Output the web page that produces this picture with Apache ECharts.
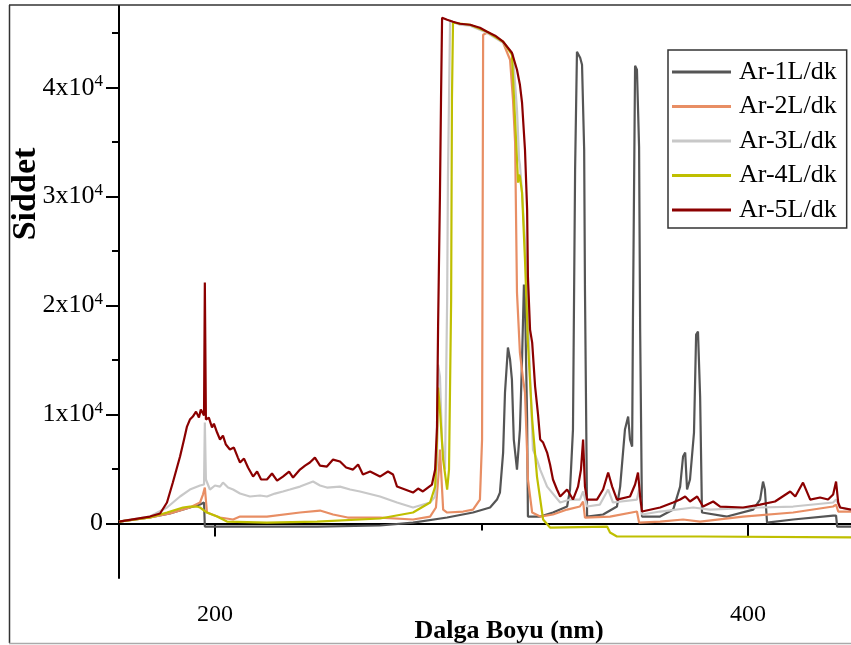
<!DOCTYPE html>
<html>
<head>
<meta charset="utf-8">
<script src="https://cdn.jsdelivr.net/npm/echarts@6/dist/echarts.min.js"></script>
<style>
html,body{margin:0;padding:0;background:#fff;}
#chart{width:851px;height:645px;}
</style>
</head>
<body>
<div id="chart"></div>
<script>
// ---- data: [wavelength (nm), intensity] ----
const seriesNames = ['Ar-1L/dk', 'Ar-2L/dk', 'Ar-3L/dk', 'Ar-4L/dk', 'Ar-5L/dk'];

const ar1 = [[164,180],[175.6,550],[183.1,920],[190.6,1470],[194.4,1740],[195.9,1930],[196.2,-280],[206.8,-280],[238.3,-280],[261.9,-180],[274.3,90],[287.1,550],[296.8,1010],[303.2,1470],[305.8,2200],[306.9,2840],[308.1,6510],[308.8,12020],[309.9,16150],[310.7,15050],[311.4,13210],[312.1,7710],[313.3,4950],[314.4,8620],[315.2,15050],[315.9,21930],[316.3,20550],[317.1,9540],[317.4,640],[322.0,640],[326.8,1010],[332.1,1560],[333.2,3120],[334.3,8620],[335.1,32480],[335.8,43300],[337.0,42750],[337.7,42110],[338.5,34310],[338.8,21470],[339.6,640],[345.6,830],[350.8,1560],[352.0,3390],[353.8,8620],[355.0,9820],[355.7,7710],[356.5,7060],[356.8,18720],[357.6,42020],[358.3,41650],[359.1,34590],[359.5,17800],[360.2,640],[367.0,640],[371.9,1280],[374.5,3390],[375.6,6150],[376.4,6510],[377.1,3120],[378.2,4040],[379.7,8350],[380.5,17340],[381.2,17610],[382.0,11650],[382.7,1010],[392.1,640],[401.9,1280],[404.5,2200],[405.6,3850],[406.3,3120],[407.1,90],[416.9,370],[431.9,730],[433.0,730],[433.4,-280],[438.6,-280]];

const ar2 = [[164,180],[175.6,550],[183.1,920],[190.6,1470],[194.4,1930],[195.5,2660],[196.2,3300],[197.0,1010],[201.9,550],[206.8,370],[209.4,640],[219.5,640],[231.9,1010],[239.4,1190],[244.3,830],[249.8,550],[261.9,550],[274.3,370],[280.7,640],[282.9,1470],[284.0,4950],[284.4,6790],[285.2,3120],[285.6,1280],[287.1,1010],[293.1,1100],[296.8,1280],[299.4,2200],[300.2,7710],[300.6,44860],[302.1,45040],[305.1,44680],[308.1,44130],[310.7,42570],[311.8,38900],[312.6,34950],[313.3,21190],[314.4,15690],[315.6,13210],[316.3,12020],[317.1,6510],[317.4,4040],[319.0,1010],[322.0,640],[326.8,830],[332.1,1280],[336.9,1560],[338.1,2020],[338.8,550],[348.2,640],[358.3,1100],[359.1,90],[367.0,180],[375.6,370],[382.0,180],[398.1,640],[416.9,1010],[431.9,1560],[433.0,1740],[433.8,1100],[438.6,1100]];

const ar3 = [[164,180],[175.6,640],[182.0,1470],[186.9,2480],[190.6,3120],[194.4,3490],[195.9,3580],[196.2,9270],[196.6,4040],[198.1,3120],[200.0,3490],[201.9,3390],[203.0,3760],[204.9,3300],[206.8,3120],[209.4,2750],[213.1,2480],[216.9,2570],[219.5,2480],[222.5,2750],[225.5,2940],[228.1,3120],[231.9,3390],[236.8,3850],[239.4,3490],[242.0,3300],[246.9,3390],[250.7,3120],[254.4,2940],[261.9,2480],[268.3,1930],[274.3,1470],[280.7,1930],[282.6,2480],[283.3,5870],[283.7,14590],[284.4,13490],[285.2,7430],[286.3,4950],[287.1,20550],[287.4,31830],[288.2,46150],[291.9,45780],[295.7,45690],[302.1,45040],[308.1,44130],[311.8,43030],[313.3,37980],[314.1,33390],[314.4,32940],[315.2,30370],[317.1,22660],[318.2,13490],[319.3,6790],[320.8,5870],[322.0,4950],[324.6,3390],[329.5,1930],[333.2,2200],[336.9,2200],[338.1,2940],[339.6,1560],[344.4,1740],[347.5,3120],[349.3,1930],[358.3,2200],[359.1,3120],[360.2,830],[367.0,1100],[379.4,1470],[385.7,1280],[404.5,1470],[416.9,1560],[431.9,1930],[433.0,2200],[434.5,1470],[438.6,1280]];

const ar4 = [[164,180],[175.6,550],[182.0,1010],[188.0,1470],[190.6,1560],[193.2,1560],[194.4,1470],[197.0,1010],[200.8,640],[204.5,180],[219.5,90],[238.3,180],[261.9,460],[274.3,1010],[280.7,1930],[282.6,3390],[283.3,7710],[283.7,12480],[284.4,10460],[285.6,5870],[287.1,3120],[287.8,4950],[288.6,20550],[288.9,38900],[289.3,45960],[295.7,45780],[302.1,45140],[308.1,44220],[311.4,43030],[313.3,33390],[313.7,31280],[314.1,32020],[314.4,31830],[315.2,30370],[316.3,24220],[317.4,16610],[319.0,9540],[320.8,4310],[323.1,370],[325.7,-370],[347.1,-280],[348.2,-830],[350.8,-1190],[382.0,-1190],[438.6,-1280]];

const ar5 = [[164,180],[175.6,640],[179.4,920],[182.0,1930],[184.2,3760],[186.9,6150],[188.4,7710],[189.5,8900],[190.6,9540],[191.7,9820],[192.9,10270],[194.0,9720],[194.7,10460],[195.9,9910],[196.2,22110],[196.6,9540],[197.7,9720],[198.9,8810],[199.6,9170],[200.8,8350],[201.9,7710],[203.0,8070],[204.1,7250],[205.6,6790],[207.1,6970],[208.6,6050],[209.4,5600],[210.9,5960],[212.4,5140],[214.3,4310],[215.8,4770],[217.3,4040],[219.5,4040],[221.4,4590],[223.3,3940],[225.5,4310],[227.8,4770],[229.3,4220],[231.9,4950],[233.8,5320],[235.6,5600],[237.5,6050],[239.4,5320],[242.0,5230],[244.3,5870],[246.9,5690],[249.2,5140],[251.8,4950],[253.7,5410],[255.5,4500],[258.2,4770],[261.9,4310],[264.9,4770],[266.8,4500],[268.3,3390],[271.3,3120],[274.3,2840],[276.2,3210],[278.0,2940],[281.4,3580],[282.6,4950],[283.3,8900],[283.7,18070],[284.4,30180],[284.8,38900],[285.2,46420],[287.1,46240],[289.3,46050],[291.9,45870],[295.7,45780],[299.4,45500],[302.1,45140],[305.1,44770],[308.1,44220],[309.9,43670],[311.4,43210],[313.3,41650],[314.4,40270],[315.2,38620],[316.3,34310],[317.1,28810],[317.4,22660],[318.2,17800],[319.0,16610],[320.1,12570],[321.2,10000],[322.0,7710],[323.1,7430],[324.6,6510],[325.7,5410],[326.8,4040],[328.3,3120],[329.5,2480],[332.1,3120],[334.3,2200],[336.2,3390],[337.3,4950],[338.1,7710],[338.8,3390],[339.6,2200],[343.3,2200],[345.6,3120],[347.5,4680],[349.0,3390],[350.8,2200],[355.7,2480],[357.6,3580],[358.7,4680],[359.5,2480],[360.2,1100],[367.0,1470],[371.9,1930],[374.5,2200],[376.4,2480],[378.2,2020],[380.9,2480],[383.1,1560],[386.9,2020],[389.5,1560],[398.1,1470],[404.5,1740],[410.1,2020],[415.8,2940],[417.7,2480],[420.6,3760],[423.3,2200],[427.0,2390],[430.0,2200],[431.9,2660],[433.0,3850],[433.8,1930],[434.5,1470],[438.6,1280]];

const seriesData = [ar1, ar2, ar3, ar4, ar5];
const seriesColors = ['#555555', '#E88E64', '#C8C8C8', '#BFBF00', '#8B0000'];

// ---- axes ----
const xMin = 164, xMax = 438.6;
const yMin = -5000, yMax = 47500;
const xMajorTicks = [200, 400];
const xMinorTicks = [300];
const yMajorTicks = [0, 10000, 20000, 30000, 40000];
const yMinorTicks = [5000, 15000, 25000, 35000, 45000];

const FONT = 'Liberation Serif';

function yLabel(v) {
  if (v === 0) return '0';
  return (v / 10000) + 'x10{sup|4}';
}

const chart = echarts.init(document.getElementById('chart'), null, {renderer: 'canvas'});

const option = {
  animation: false,
  backgroundColor: '#fff',
  grid: {left: 119, right: 0, top: 6, bottom: 67, containLabel: false},
  xAxis: [{
    type: 'value', min: xMin, max: xMax,
    axisLine: {show: true, lineStyle: {color: '#000', width: 2}},
    axisTick: {show: true, customValues: xMajorTicks, length: 13, lineStyle: {color: '#000', width: 2}},
    axisLabel: {show: true, customValues: xMajorTicks, margin: 25, fontFamily: FONT, fontSize: 24, color: '#000'},
    splitLine: {show: false}
  }, {
    type: 'value', min: xMin, max: xMax, position: 'bottom',
    axisLine: {show: false},
    axisTick: {show: true, customValues: xMinorTicks, length: 7, lineStyle: {color: '#000', width: 2}},
    axisLabel: {show: false},
    splitLine: {show: false}
  }],
  yAxis: [{
    type: 'value', min: yMin, max: yMax,
    axisLine: {show: true, lineStyle: {color: '#000', width: 2}},
    axisTick: {show: true, customValues: yMajorTicks, length: 13, lineStyle: {color: '#000', width: 2}},
    axisLabel: {
      show: true, customValues: yMajorTicks, margin: 16,
      fontFamily: FONT, fontSize: 26, color: '#000',
      formatter: yLabel,
      rich: {sup: {fontFamily: FONT, fontSize: 17, color: '#000', padding: [0, 0, 13, 0]}}
    },
    splitLine: {show: false}
  }, {
    type: 'value', min: yMin, max: yMax, position: 'left',
    axisLine: {show: false},
    axisTick: {show: true, customValues: yMinorTicks, length: 7, lineStyle: {color: '#000', width: 2}},
    axisLabel: {show: false},
    splitLine: {show: false}
  }],
  legend: {
    orient: 'vertical', left: 668, top: 50,
    padding: [9, 10, 5, 4],
    icon: 'rect',
    itemWidth: 59, itemHeight: 3, itemGap: 8.5,
    borderColor: '#333', borderWidth: 1.5, backgroundColor: '#fff',
    textStyle: {fontFamily: FONT, fontSize: 26, color: '#000', lineHeight: 26, padding: [0, 0, 0, 3]},
    data: seriesNames
  },
  graphic: [
    {type: 'line', shape: {x1: 9, y1: 5, x2: 851, y2: 5}, style: {stroke: '#333', lineWidth: 1.5}, silent: true},
    {type: 'line', shape: {x1: 9.5, y1: 5, x2: 9.5, y2: 643}, style: {stroke: '#333', lineWidth: 1.5}, silent: true},
    {type: 'line', shape: {x1: 9, y1: 643.5, x2: 851, y2: 643.5}, style: {stroke: '#aaa', lineWidth: 1.5}, silent: true},
    {type: 'text', x: 509, y: 631, style: {text: 'Dalga Boyu (nm)', font: 'bold 26px "Liberation Serif"', fill: '#000', textAlign: 'center', textVerticalAlign: 'middle'}},
    {type: 'text', x: 26, y: 194, rotation: Math.PI / 2, style: {text: 'Siddet', font: 'bold 34px "Liberation Serif"', fill: '#000', textAlign: 'center', textVerticalAlign: 'middle'}}
  ],
  series: seriesNames.map((name, i) => ({
    name: name, type: 'line', data: seriesData[i],
    symbol: 'none', showSymbol: false,
    lineStyle: {color: seriesColors[i], width: 2.2},
    itemStyle: {color: seriesColors[i]},
    z: 2 + i
  }))
};

chart.setOption(option);
</script>
</body>
</html>
